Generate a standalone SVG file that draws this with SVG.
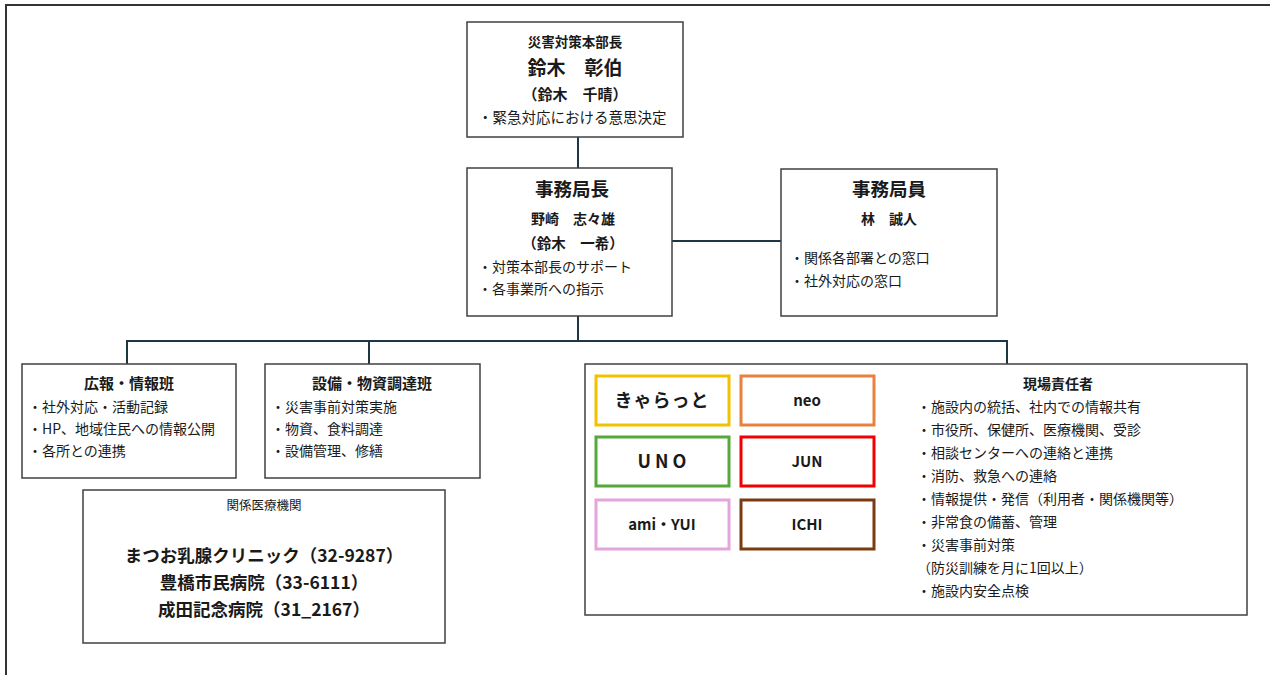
<svg xmlns="http://www.w3.org/2000/svg" width="1270" height="675" viewBox="0 0 1270 675">
<style>
text{font-family:"Noto Sans CJK JP","Noto Sans",sans-serif;fill:#1a1a1a}
.box{fill:#fff;stroke:#404040;stroke-width:1.5}
.cb{fill:#fff;stroke-width:3}
.b{font-weight:bold}
.m{text-anchor:middle}
.t{font-size:14px}
.s{font-size:14px}
.con{fill:none;stroke:#1f3644;stroke-width:2}
</style>
<rect width="1270" height="675" fill="#fff"/>
<path d="M6 675V5H1270" fill="none" stroke="#333" stroke-width="2"/>
<g id="connectors" class="con">
<path d="M578 137V168"/>
<path d="M672 241H781"/>
<path d="M578 316V341"/>
<path d="M127 364V341H1007V364"/>
<path d="M369 341V364"/>
</g>
<g id="honbucho">
<rect class="box" x="467" y="22" width="216" height="115"/>
<text class="m b" x="575" y="47" font-size="13.5">災害対策本部長</text>
<text class="m b" x="575" y="75" font-size="19">鈴木　彰伯</text>
<text class="m b" x="575" y="100" font-size="15">（鈴木　千晴）</text>
<text class="t" x="478" y="123" font-size="14.5" style="font-size:14.5px">・緊急対応における意思決定</text>
</g>
<g id="jimukyokucho">
<rect class="box" x="467" y="168" width="205" height="148"/>
<text class="m b" x="572" y="196" font-size="18.5">事務局長</text>
<text class="m b" x="573" y="224" font-size="14">野崎　志々雄</text>
<text class="m b" x="573" y="249" font-size="14.5">（鈴木　一希）</text>
<text class="t" x="478" y="272">・対策本部長のサポート</text>
<text class="t" x="478" y="294">・各事業所への指示</text>
</g>
<g id="jimukyokuin">
<rect class="box" x="781" y="169" width="216" height="147"/>
<text class="m b" x="889" y="196" font-size="18.5">事務局員</text>
<text class="m b" x="889" y="224" font-size="14">林　誠人</text>
<text class="t" x="790" y="263">・関係各部署との窓口</text>
<text class="t" x="790" y="286">・社外対応の窓口</text>
</g>
<g id="koho">
<rect class="box" x="22" y="364" width="214" height="114"/>
<text class="m b" x="129" y="389" font-size="15">広報・情報班</text>
<text class="t" x="28" y="412">・社外対応・活動記録</text>
<text class="t" x="28" y="434">・HP、地域住民への情報公開</text>
<text class="t" x="28" y="456">・各所との連携</text>
</g>
<g id="setsubi">
<rect class="box" x="265" y="364" width="215" height="114"/>
<text class="m b" x="372" y="389" font-size="15">設備・物資調達班</text>
<text class="t" x="271" y="412">・災害事前対策実施</text>
<text class="t" x="271" y="434">・物資、食料調達</text>
<text class="t" x="271" y="456">・設備管理、修繕</text>
</g>
<g id="iryo">
<rect class="box" x="83" y="490" width="362" height="153"/>
<text class="m" x="264" y="510" font-size="12.5">関係医療機関</text>
<text class="m b" x="264" y="562" font-size="17.5">まつお乳腺クリニック（32-9287）</text>
<text class="m b" x="264" y="589" font-size="17.5">豊橋市民病院（33-6111）</text>
<text class="m b" x="264" y="616" font-size="17.5">成田記念病院（31_2167）</text>
</g>
<g id="genba">
<rect class="box" x="585" y="364" width="662" height="251"/>
<g id="kyaratto"><rect class="cb" x="596" y="376" width="133" height="49" stroke="#f2c200"/><text class="m b" x="662" y="407" font-size="18" letter-spacing="1">きゃらっと</text></g>
<g id="neo"><rect class="cb" x="741" y="376" width="133" height="49" stroke="#e8813e"/><text class="m b" x="807" y="406" font-size="15">neo</text></g>
<g id="uno"><rect class="cb" x="596" y="437" width="133" height="49" stroke="#55a83a"/><text class="m b" x="662" y="468" font-size="18">U N O</text></g>
<g id="jun"><rect class="cb" x="741" y="437" width="133" height="49" stroke="#f00000"/><text class="m b" x="807" y="467" font-size="15">JUN</text></g>
<g id="amiyui"><rect class="cb" x="596" y="500" width="133" height="49" stroke="#e4a4dc"/><text class="m b" x="662" y="530" font-size="15">ami・YUI</text></g>
<g id="ichi"><rect class="cb" x="741" y="500" width="133" height="49" stroke="#7a3b12"/><text class="m b" x="807" y="530" font-size="15">ICHI</text></g>
<text class="m b" x="1058" y="389" font-size="14">現場責任者</text>
<text class="s" x="917" y="412">・施設内の統括、社内での情報共有</text>
<text class="s" x="917" y="435">・市役所、保健所、医療機関、受診</text>
<text class="s" x="917" y="458">・相談センターへの連絡と連携</text>
<text class="s" x="917" y="481">・消防、救急への連絡</text>
<text class="s" x="917" y="504">・情報提供・発信（利用者・関係機関等）</text>
<text class="s" x="917" y="527">・非常食の備蓄、管理</text>
<text class="s" x="917" y="550">・災害事前対策</text>
<text class="s" x="917" y="573">（防災訓練を月に1回以上）</text>
<text class="s" x="917" y="596">・施設内安全点検</text>
</g>
</svg>
